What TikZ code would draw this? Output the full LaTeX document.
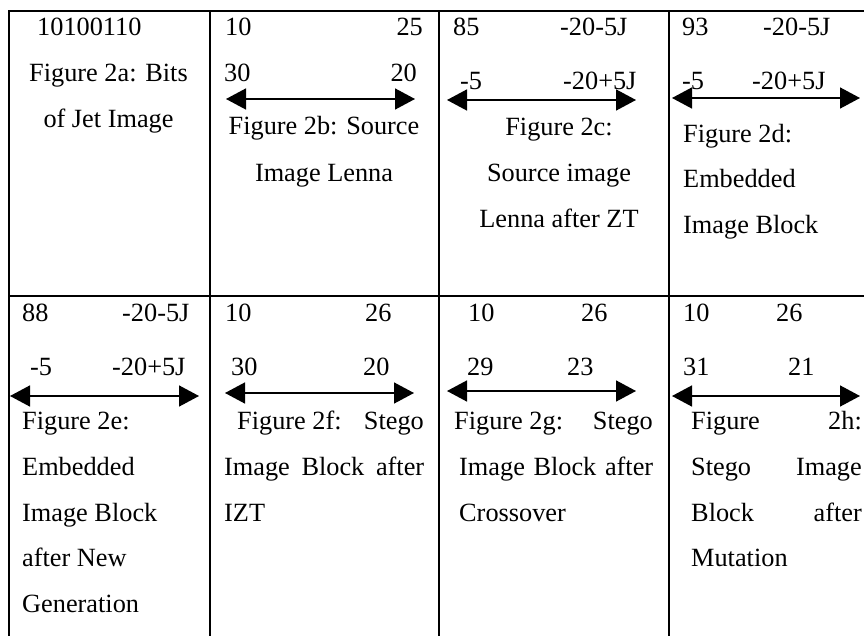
\documentclass[tikz,border=0pt]{standalone}
\usepackage{fontspec}
\setmainfont{Liberation Serif}
\usetikzlibrary{arrows.meta}
\newcommand{\spreadline}[2]{\makebox[#1][s]{#2}}
\tikzset{
	lft/.style={anchor=base west, inner sep=0pt},
	rgt/.style={anchor=base east, inner sep=0pt},
	mid/.style={anchor=base, inner sep=0pt},
	dblarrow/.style={line width=1.5pt, {Triangle[length=20pt,width=21pt]}-{Triangle[length=20pt,width=21pt]}}
}
\begin{document}
\begin{tikzpicture}[x=1pt, y=-1pt, font=\fontsize{26.3}{30}\selectfont]
	\useasboundingbox (0,0) rectangle (864,636);
	\begin{scope}[line width=2pt]
		\clip (0,0) rectangle (864,636);
		\draw (9,640)--(9,11)--(870,11);
		\draw (9,296)--(870,296);
		\draw (210,11)--(210,640);
		\draw (439,11)--(439,640);
		\draw (669,11)--(669,640);
	\end{scope}
	% cell 2a
	\node[lft] (a1) at (37,36) {10100110};
	\node[mid] (a2) at (108.5,82) {Figure 2a: Bits};
	\node[mid] (a3) at (108.5,128) {of Jet Image};
	% cell 2b
	\node[lft] (b1) at (225,36) {10};
	\node[rgt] (b2) at (423,36) {25};
	\node[lft] (b3) at (224,82) {30};
	\node[rgt] (b4) at (417,82) {20};
	\coordinate (bl) at (226,99);
	\coordinate (br) at (415,99);
	\draw[dblarrow] (bl)--(br);
	\node[mid] (b5) at (324,135) {Figure 2b: Source};
	\node[mid] (b6) at (324,182) {Image Lenna};
	% cell 2c
	\node[lft] (c1) at (453,36) {85};
	\node[lft] (c2) at (560,36) {-20-5J};
	\node[lft] (c3) at (460,90) {-5};
	\node[lft] (c4) at (563,90) {-20+5J};
	\coordinate (cl) at (447,100);
	\coordinate (cr) at (636,100);
	\draw[dblarrow] (cl)--(cr);
	\node[mid] (c5) at (559,136) {Figure 2c:};
	\node[mid] (c6) at (559,182) {Source image};
	\node[mid] (c7) at (559,228) {Lenna after ZT};
	% cell 2d
	\node[lft] (d1) at (682,36) {93};
	\node[lft] (d2) at (763,36) {-20-5J};
	\node[lft] (d3) at (682,90) {-5};
	\node[lft] (d4) at (752,90) {-20+5J};
	\coordinate (dl) at (672,98);
	\coordinate (dr) at (860,98);
	\draw[dblarrow] (dl)--(dr);
	\node[lft] (d5) at (683,143) {Figure 2d:};
	\node[lft] (d6) at (683,188) {Embedded};
	\node[lft] (d7) at (683,234) {Image Block};
	% cell 2e
	\node[lft] (e1) at (22,321) {88};
	\node[lft] (e2) at (122,321) {-20-5J};
	\node[lft] (e3) at (30,375) {-5};
	\node[lft] (e4) at (112,375) {-20+5J};
	\coordinate (el) at (10,396);
	\coordinate (er) at (199,396);
	\draw[dblarrow] (el)--(er);
	\node[lft] (e5) at (22,429) {Figure 2e:};
	\node[lft] (e6) at (22,475) {Embedded};
	\node[lft] (e7) at (22,521) {Image Block};
	\node[lft] (e8) at (22,566) {after New};
	\node[lft] (e9) at (22,612) {Generation};
	% cell 2f
	\node[lft] (f1) at (225,321) {10};
	\node[lft] (f2) at (365,321) {26};
	\node[lft] (f3) at (231,375) {30};
	\node[lft] (f4) at (363,375) {20};
	\coordinate (fl) at (225,393);
	\coordinate (fr) at (414,393);
	\draw[dblarrow] (fl)--(fr);
	\node[lft] (f5) at (237,429) {Figure 2f:};
	\node[rgt] (f6) at (424,429) {Stego};
	\node[lft] (f7) at (224,475) {\spreadline{200pt}{Image Block after}};
	\node[lft] (f8) at (224,521) {IZT};
	% cell 2g
	\node[lft] (g1) at (468,321) {10};
	\node[lft] (g2) at (581,321) {26};
	\node[lft] (g3) at (467,375) {29};
	\node[lft] (g4) at (567,375) {23};
	\coordinate (gl) at (447,391);
	\coordinate (gr) at (636,391);
	\draw[dblarrow] (gl)--(gr);
	\node[lft] (g5) at (454,429) {Figure 2g:};
	\node[rgt] (g6) at (653,429) {Stego};
	\node[lft] (g7) at (459,475) {\spreadline{194pt}{Image Block after}};
	\node[lft] (g8) at (459,521) {Crossover};
	% cell 2h
	\node[lft] (h1) at (683,321) {10};
	\node[lft] (h2) at (776,321) {26};
	\node[lft] (h3) at (683,375) {31};
	\node[lft] (h4) at (788,375) {21};
	\coordinate (hl) at (672,396);
	\coordinate (hr) at (860,396);
	\draw[dblarrow] (hl)--(hr);
	\node[lft] (h5) at (691,429) {Figure};
	\node[rgt] (h6) at (862,429) {2h:};
	\node[lft] (h7) at (691,475) {Stego};
	\node[rgt] (h8) at (862,475) {Image};
	\node[lft] (h9) at (691,521) {Block};
	\node[rgt] (h10) at (862,521) {after};
	\node[lft] (h11) at (691,566) {Mutation};
\end{tikzpicture}
\end{document}
